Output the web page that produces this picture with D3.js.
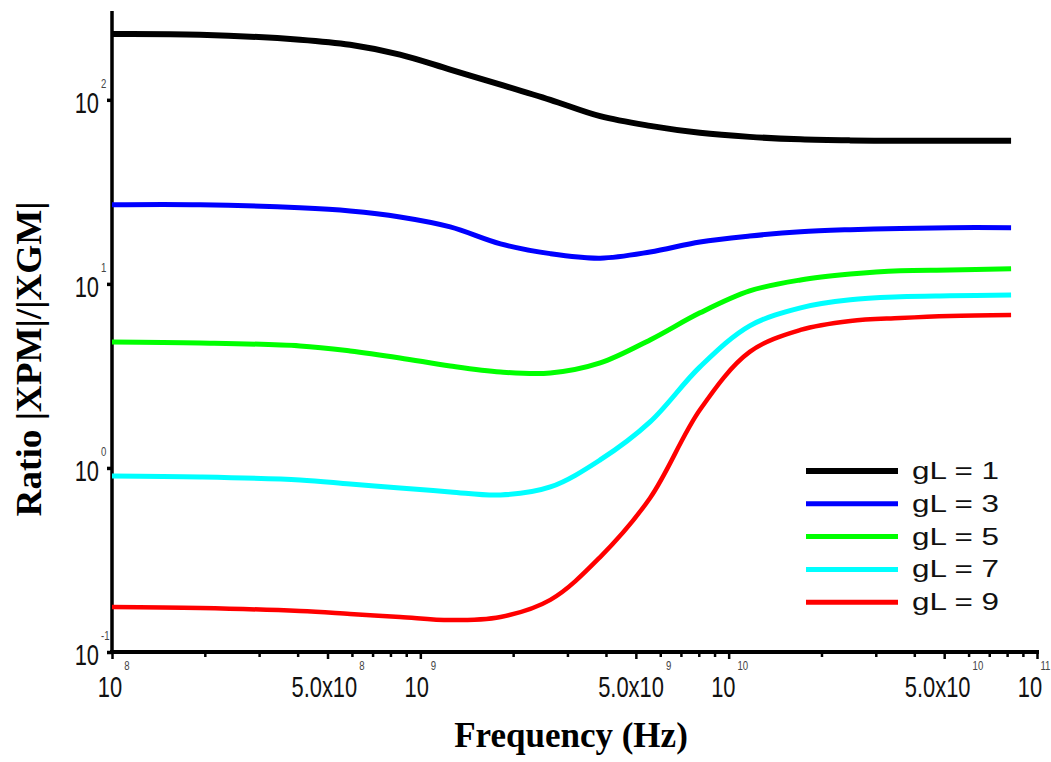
<!DOCTYPE html>
<html><head><meta charset="utf-8">
<script src="https://cdn.jsdelivr.net/npm/d3@7"></script>
<style>body{margin:0;background:#fff}svg{display:block}</style>
</head><body>
<svg id="c" width="1051" height="762"></svg>
<script>
const freqs = [1e8, 1.93e8, 4.07e8, 5.92e8, 8.59e8, 1.25e9, 1.82e9, 2.64e9, 3.83e9, 5.56e9, 8.07e9, 1.17e10, 1.71e10, 2.48e10, 3.6e10, 5.22e10, 8.24e10];
const gL1 = [228, 226, 212, 199, 176, 146, 121, 100, 81.5, 72.2, 66.2, 62.9, 61.0, 60.2, 59.9, 59.9, 59.9];
const gL3 = [26.9, 26.9, 25.9, 24.9, 23.1, 20.4, 16.5, 14.6, 13.8, 14.9, 16.9, 18.2, 19.2, 19.7, 20.0, 20.2, 20.2];
const gL5 = [4.84, 4.78, 4.60, 4.32, 3.96, 3.58, 3.32, 3.28, 3.72, 4.96, 6.96, 9.16, 10.5, 11.3, 11.8, 11.9, 12.1];
const gL7 = [0.905, 0.894, 0.861, 0.818, 0.779, 0.741, 0.713, 0.788, 1.105, 1.778, 3.54, 5.91, 7.41, 8.19, 8.50, 8.61, 8.71];
const gL9 = [0.1756, 0.1734, 0.167, 0.161, 0.155, 0.149, 0.155, 0.192, 0.328, 0.687, 2.07, 4.27, 5.62, 6.29, 6.53, 6.70, 6.78];
const seriesNames = ["gL = 1", "gL = 3", "gL = 5", "gL = 7", "gL = 9"];
const seriesColors = ["#000000", "#0000ff", "#00ff00", "#00ffff", "#ff0000"];
const seriesValues = [gL1, gL3, gL5, gL7, gL9];
const xMajorTicks = [1e8, 5e8, 1e9, 5e9, 1e10, 5e10, 1e11];
const xTickMain = ["10", "5.0x10", "10", "5.0x10", "10", "5.0x10", "10"];
const xTickSup = ["8", "8", "9", "9", "10", "10", "11"];
const yTicks = [0.1, 1, 10, 100];
const yTickSup = ["-1", "0", "1", "2"];

const svg = d3.select("#c");
const x = d3.scaleLog().domain([1e8, 1e11]).range([112, 1037]);
const y = d3.scaleLog().domain([0.1, 300]).range([652, 12]);
const xl = x.copy().range([110, 1030]);
const SX = 0.73; // horizontal compression of tick-label glyphs
const charW = 30 * 0.556 * SX;

// minor ticks
const minor = [];
[1e8, 1e9, 1e10].forEach(d => [2,3,4,6,7,8,9].forEach(m => minor.push(d*m)));

// axes
const gx = svg.append("g").attr("transform", "translate(0,652)");
gx.call(d3.axisBottom(x).tickValues(minor).tickSize(5).tickFormat(""));
gx.append("g").call(d3.axisBottom(x).tickValues(xMajorTicks).tickSize(7).tickFormat(""));
gx.selectAll("path.domain").remove();
gx.selectAll("line").attr("stroke", "#000").attr("stroke-width", 2.5);
gx.append("line").attr("x1", 110).attr("x2", 1039).attr("y1", 0).attr("y2", 0)
  .attr("stroke", "#000").attr("stroke-width", 4);

const gy = svg.append("g").attr("transform", "translate(112,0)");
gy.call(d3.axisLeft(y).tickValues(yTicks).tickSize(5).tickFormat(""));
gy.selectAll("path.domain").remove();
gy.selectAll("line").attr("stroke", "#000").attr("stroke-width", 3.5);
gy.append("line").attr("x1", 0).attr("x2", 0).attr("y1", 11).attr("y2", 654)
  .attr("stroke", "#000").attr("stroke-width", 3.5);

// x tick labels
xMajorTicks.forEach((v, i) => {
  const cx = xl(v);
  const g = svg.append("g").attr("transform", `translate(${cx},697) scale(${SX},1)`);
  const t = g.append("text").attr("x", 0).attr("y", 0).attr("text-anchor", "middle")
    .attr("font-family", "Liberation Sans, Arial, sans-serif").attr("font-size", 30)
    .attr("fill", "#111").text(xTickMain[i]);
  const w = t.node().getComputedTextLength() * SX;
  const sw = xTickSup[i].length * 6;
  const sx = Math.min(cx + w/2 + 2, 1050 - sw * 0.8);
  svg.append("g").attr("transform", `translate(${sx},670) scale(0.8,1)`)
    .append("text").attr("x", 0).attr("y", 0)
    .attr("font-family", "Liberation Sans, Arial, sans-serif").attr("font-size", 12)
    .attr("fill", "#444").text(xTickSup[i]);
});

// y tick labels
yTicks.forEach((v, i) => {
  const ty = y(v);
  svg.append("g").attr("transform", `translate(99,${ty + 13}) scale(${SX},1)`)
    .append("text").attr("x", 0).attr("y", 0).attr("text-anchor", "end")
    .attr("font-family", "Liberation Sans, Arial, sans-serif").attr("font-size", 30)
    .attr("fill", "#111").text("10");
  svg.append("g").attr("transform", `translate(101,${ty - 12}) scale(0.8,1)`)
    .append("text").attr("x", 0).attr("y", 0)
    .attr("font-family", "Liberation Sans, Arial, sans-serif").attr("font-size", 12)
    .attr("fill", "#444").text(yTickSup[i]);
});

// lines
const line = d3.line().x(d => x(d[0])).y(d => y(d[1])).curve(d3.curveCatmullRom.alpha(0.5));
seriesValues.forEach((vals, i) => {
  svg.append("path").datum(freqs.map((f, j) => [f, vals[j]]))
    .attr("d", line).attr("fill", "none").attr("stroke", seriesColors[i])
    .attr("stroke-width", i === 0 ? 6 : (i === 4 ? 4.5 : 5));
});

// legend
seriesNames.forEach((n, i) => {
  const ly = 471 + i * 32.8;
  svg.append("line").attr("x1", 806).attr("x2", 898).attr("y1", ly).attr("y2", ly)
    .attr("stroke", seriesColors[i]).attr("stroke-width", i === 0 ? 6 : 5);
  svg.append("text").attr("x", 912).attr("y", ly + 8)
    .attr("font-family", "Liberation Sans, Arial, sans-serif").attr("font-size", 23)
    .attr("textLength", 87).attr("lengthAdjust", "spacingAndGlyphs")
    .attr("fill", "#111").text(n);
});

// titles
svg.append("text").attr("x", 571).attr("y", 747).attr("text-anchor", "middle")
  .attr("font-family", "Liberation Serif, Times New Roman, serif").attr("font-weight", "bold")
  .attr("font-size", 35).attr("fill", "#000").text("Frequency (Hz)");
svg.append("text").attr("transform", "translate(41,359) rotate(-90)").attr("text-anchor", "middle")
  .attr("font-family", "Liberation Serif, Times New Roman, serif").attr("font-weight", "bold")
  .attr("font-size", 35).attr("textLength", 315).attr("lengthAdjust", "spacingAndGlyphs")
  .attr("fill", "#000").text("Ratio |XPM|/|XGM|");
</script>
</body></html>
